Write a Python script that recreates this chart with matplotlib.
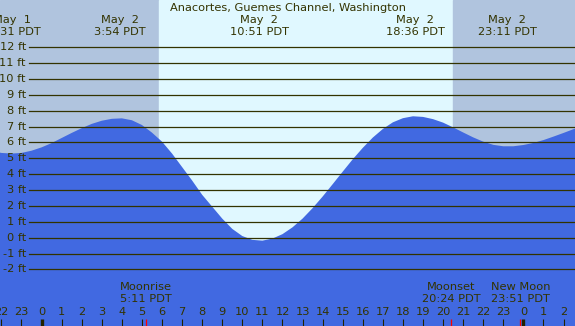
import numpy as np
import matplotlib
matplotlib.use("Agg")
import matplotlib.pyplot as plt

hours = np.arange(-2.5, 27.01, 0.5)
heights = [5.47, 5.34, 5.30, 5.34, 5.48, 5.69, 5.96, 6.28, 6.60, 6.90, 7.17, 7.37,
           7.49, 7.52, 7.40, 7.10, 6.62, 6.05, 5.30, 4.45, 3.60, 2.70, 1.95, 1.20,
           0.55, 0.10, -0.14, -0.19, -0.06, 0.22, 0.65, 1.20, 1.86, 2.59, 3.37, 4.16,
           4.94, 5.66, 6.31, 6.85, 7.27, 7.53, 7.65, 7.61, 7.47, 7.25, 6.95, 6.63,
           6.32, 6.05, 5.85, 5.76, 5.76, 5.84, 5.97, 6.15, 6.37, 6.60, 6.84, 7.05]

# high / low tide labels along the top
tide_times = [-1.483, 3.9, 10.85, 18.6, 23.183]
tide_days = ["May  1", "May  2", "May  2", "May  2", "May  2"]
tide_labels = ["22:31 PDT", "3:54 PDT", "10:51 PDT", "18:36 PDT", "23:11 PDT"]

sunrise = 5.85
sunset = 20.5

moon_times = [5.183, 20.4, 23.85]
moon_names = ["Moonrise", "Moonset", "New Moon"]
moon_labels = ["5:11 PDT", "20:24 PDT", "23:51 PDT"]

ft_levels = list(range(-2, 13))
title = "Anacortes, Guemes Channel, Washington"

x0, x1 = -2.07, 26.57
y0, y1 = -5.57, 14.98
txt = "#333300"
fs = 8.2

fig = plt.figure(figsize=(5.75, 3.26), dpi=100)
ax = fig.add_axes([0, 0, 1, 1])
ax.set_xlim(x0, x1)
ax.set_ylim(y0, y1)
ax.axis("off")

# night / day background
ax.axvspan(x0, sunrise, color="#b0c4de", zorder=0)
ax.axvspan(sunrise, sunset, color="#e0f8ff", zorder=0)
ax.axvspan(sunset, x1, color="#b0c4de", zorder=0)

# water
ax.fill_between(hours, y0 - 1, heights, color="#4169e1", lw=0, zorder=1)

# px -> data helpers
def px_x(p):
    return x0 + p / 575.0 * (x1 - x0)

def px_y(p):
    return y1 - p / 326.0 * (y1 - y0)

grid_start = px_x(29)
for f in ft_levels:
    ax.plot([grid_start, x1], [f, f], color="#333300", lw=0.9, zorder=2)
    ax.text(px_x(26), f, "%d ft" % f, ha="right", va="center", color=txt, fontsize=fs, zorder=3)

ax.text((x0 + x1) / 2, px_y(8), title, ha="center", va="center", color=txt, fontsize=fs)
for t, d, l in zip(tide_times, tide_days, tide_labels):
    ax.text(t, px_y(20), d, ha="center", va="center", color=txt, fontsize=fs)
    ax.text(t, px_y(32), l, ha="center", va="center", color=txt, fontsize=fs)

# hour ticks along the bottom
for h in range(-2, 27):
    lab = str(h % 24)
    ax.text(h, px_y(312), lab, ha="center", va="center", color=txt, fontsize=fs)
    if h % 24 == 0:
        ax.plot([h, h], [px_y(319), y0], color="#222200", lw=2.4, solid_capstyle="butt")
    else:
        ax.plot([h, h], [px_y(319), y0], color="#222200", lw=0.8, solid_capstyle="butt")

for t, n, l in zip(moon_times, moon_names, moon_labels):
    ax.text(t, px_y(287), n, ha="center", va="center", color=txt, fontsize=fs)
    ax.text(t, px_y(299), l, ha="center", va="center", color=txt, fontsize=fs)
    ax.plot([t, t], [px_y(319), y0], color="red", lw=0.9, solid_capstyle="butt")

fig.savefig("out.png", dpi=100)
